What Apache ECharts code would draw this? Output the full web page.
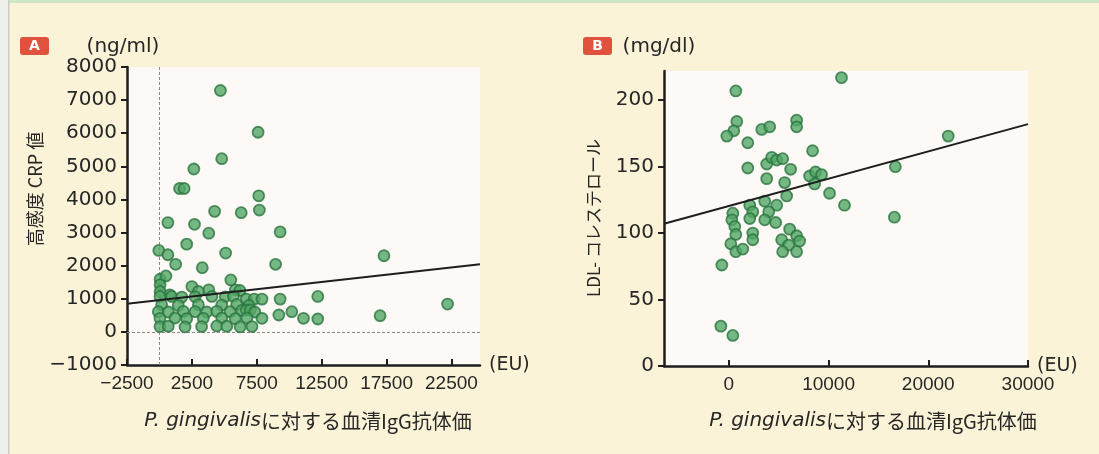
<!DOCTYPE html>
<html>
<head>
<meta charset="utf-8">
<script src="https://cdn.jsdelivr.net/npm/echarts@6/dist/echarts.min.js"></script>
<style>
  html, body { margin: 0; padding: 0; background: #fbf3d7; }
  #chart { width: 1099px; height: 454px; }
</style>
</head>
<body>
<div id="chart"></div>
<script>
// Panel A: serum IgG titre vs. high-sensitivity CRP (ng/ml)
const crpPoints = [
  [4700, 7290], [7600, 6030], [4800, 5230], [2650, 4920], [1550, 4330], [1900, 4330],
  [7650, 4110], [7700, 3680], [6300, 3600], [4250, 3640], [650, 3300], [2700, 3250],
  [3800, 2980], [9300, 3020], [-50, 2460], [650, 2330], [2100, 2650], [5100, 2380],
  [1250, 2040], [3300, 1940], [8950, 2040], [17300, 2300],
  [5500, 1570], [50, 1590], [500, 1690], [50, 1420], [2500, 1370], [3800, 1270],
  [5850, 1270], [6200, 1250], [3000, 1220], [50, 1220], [800, 1120],
  [40, 1070], [940, 1070], [1720, 1050], [2750, 1060], [4040, 1070], [5070, 1060],
  [5700, 1080], [6700, 990], [7300, 990], [7900, 990], [9300, 990], [12200, 1070],
  [170, 820], [1450, 800], [3000, 820], [4800, 810], [5950, 830], [6900, 800],
  [-90, 610], [680, 600], [1840, 620], [2750, 610], [3650, 600], [4420, 620],
  [5450, 610], [6350, 650], [6700, 660], [7000, 660], [7350, 600],
  [40, 410], [1200, 420], [2100, 400], [3380, 410], [4800, 420], [5840, 400],
  [6740, 420], [7900, 410],
  [40, 160], [680, 170], [1970, 150], [3250, 160], [4420, 180], [5190, 170],
  [6220, 150], [7130, 160],
  [9200, 510], [10200, 610], [11100, 410], [12200, 390], [17000, 490], [22200, 840]
];
const crpFit = [[-2500, 850], [24700, 2040]];
const crpXTicks = [-2500, 2500, 7500, 12500, 17500, 22500];

// Panel B: serum IgG titre vs. LDL cholesterol (mg/dl)
const ldlPoints = [
  [700, 207], [11300, 217], [800, 184], [500, 177], [-200, 173], [3300, 178],
  [4100, 180], [6800, 185], [6800, 180], [1900, 168], [8400, 162], [1900, 149],
  [3800, 152], [4300, 157], [4800, 155], [5400, 156], [6200, 148], [3800, 141],
  [5600, 138], [8100, 143], [8700, 146], [9300, 144], [8600, 137], [10100, 130],
  [22000, 173], [16700, 150], [11600, 121], [16600, 112], [5800, 128], [2100, 121],
  [3600, 124], [4800, 121], [400, 115], [2400, 116], [4000, 116], [300, 110],
  [2100, 111], [3600, 110], [4700, 108], [600, 105], [700, 99], [2400, 100],
  [2400, 95], [200, 92], [700, 86], [1400, 88], [6100, 103], [6800, 98],
  [7100, 94], [5300, 95], [6000, 91], [5400, 86], [6800, 86], [-700, 76],
  [-800, 30], [400, 23]
];
const ldlFit = [[-6500, 107], [30000, 182]];
const ldlXTicks = [0, 10000, 20000, 30000];
const ldlYTicks = [0, 50, 100, 150, 200];

const xTitle = '{i|P. gingivalis}に対する血清IgG抗体価';

const ink = '#262626';
const cjk = '"Noto Sans CJK JP", "Noto Sans", sans-serif';
const markerStyle = { color: '#53a767', borderColor: '#2a7440', borderWidth: 1.8 };

// plain digits, typographic minus
const numLabel = v => String(v).replace('-', '\u2212');

function xAxisBase(gridIndex, min, max, ticks, nameLift) {
  return {
    type: 'value', gridIndex, min, max,
    name: '(EU)', nameLocation: 'end', nameGap: 9, nameMoveOverlap: false,
    nameTextStyle: { fontFamily: 'DejaVu Sans', fontSize: 19, color: ink, verticalAlign: 'middle', padding: [0, 0, nameLift, 0] },
    axisLine: { show: true, onZero: false, lineStyle: { color: '#1e1e1e', width: 2.5 } },
    axisTick: { show: true, inside: true, length: 6, customValues: ticks, lineStyle: { color: '#1e1e1e', width: 2 } },
    axisLabel: { customValues: ticks, margin: 9, fontFamily: 'Liberation Sans', fontSize: 19, color: ink, formatter: numLabel },
    splitLine: { show: false }
  };
}
function yAxisBase(gridIndex, min, max, interval, ticks) {
  const ax = {
    type: 'value', gridIndex, min, max, interval,
    axisLine: { show: true, onZero: false, lineStyle: { color: '#1e1e1e', width: 2.5 } },
    axisTick: { show: true, inside: false, length: 6, lineStyle: { color: '#1e1e1e', width: 2 } },
    axisLabel: { margin: 10, fontFamily: 'DejaVu Sans', fontSize: 20, color: ink, formatter: numLabel },
    splitLine: { show: false }
  };
  if (ticks) { ax.axisTick.customValues = ticks; ax.axisLabel.customValues = ticks; }
  return ax;
}

function badge(x, letter) {
  return [
    { type: 'rect', shape: { x: x, y: 37, width: 29, height: 18, r: 3 }, style: { fill: '#e0523d' } },
    { type: 'text', x: x + 14.5, y: 46.5, style: { text: letter, fill: '#fff', font: 'bold 14px "DejaVu Sans"', align: 'center', verticalAlign: 'middle' } }
  ];
}
function plainText(x, y, text, size) {
  return { type: 'text', x, y, style: { text, fill: ink, font: size + 'px "DejaVu Sans"', align: 'center', verticalAlign: 'middle' } };
}
function bottomTitle(cx) {
  return {
    type: 'text', x: cx, y: 421,
    style: {
      text: xTitle, fill: ink, font: '20px ' + cjk, align: 'center', verticalAlign: 'middle',
      rich: { i: { fontStyle: 'italic', font: 'italic 20px "DejaVu Sans"', fill: ink } }
    }
  };
}
function sideTitle(cx, cy, text, size) {
  return {
    type: 'text', x: cx, y: cy, rotation: Math.PI / 2,
    style: { text, fill: ink, font: size + 'px ' + cjk, align: 'center', verticalAlign: 'middle' }
  };
}

const chart = echarts.init(document.getElementById('chart'), null, { renderer: 'canvas' });
chart.setOption({
  backgroundColor: '#fbf3d7',
  animation: false,
  grid: [
    { left: 127, right: 619, top: 67, bottom: 89, outerBoundsMode: 'none', show: true, backgroundColor: '#fdf9f6', borderWidth: 0 },
    { left: 664, right: 71, top: 71, bottom: 88, outerBoundsMode: 'none', show: true, backgroundColor: '#fdf9f6', borderWidth: 0 }
  ],
  xAxis: [
    xAxisBase(0, -2500, 24700, crpXTicks, 0),
    xAxisBase(1, -6500, 30000, ldlXTicks, 6)
  ],
  yAxis: [
    yAxisBase(0, -1000, 8000, 1000, null),
    yAxisBase(1, 0, 222, 50, ldlYTicks)
  ],
  series: [
    {
      type: 'scatter', xAxisIndex: 0, yAxisIndex: 0, data: crpPoints,
      symbolSize: 11, itemStyle: markerStyle, z: 3,
      markLine: {
        silent: true, symbol: 'none', label: { show: false },
        lineStyle: { color: '#8a8a8a', width: 1, type: [3, 2] },
        data: [{ xAxis: 0 }, { yAxis: 0 }], z: 1
      }
    },
    {
      type: 'line', xAxisIndex: 0, yAxisIndex: 0, data: crpFit,
      symbol: 'none', lineStyle: { color: '#1e1e1e', width: 2 }, z: 4
    },
    {
      type: 'scatter', xAxisIndex: 1, yAxisIndex: 1, data: ldlPoints,
      symbolSize: 11, itemStyle: markerStyle, z: 3
    },
    {
      type: 'line', xAxisIndex: 1, yAxisIndex: 1, data: ldlFit,
      symbol: 'none', lineStyle: { color: '#1e1e1e', width: 2 }, z: 4
    }
  ],
  graphic: [
    { type: 'rect', shape: { x: 0, y: 0, width: 1099, height: 3 }, style: { fill: '#cfe6c6' } },
    { type: 'rect', shape: { x: 0, y: 0, width: 8, height: 454 }, style: { fill: '#eef0ec' } },
    { type: 'rect', shape: { x: 8, y: 0, width: 1.5, height: 454 }, style: { fill: '#c9ccc4' } },
    ...badge(20, 'A'),
    ...badge(583, 'B'),
    plainText(123, 47, '(ng/ml)', 20),
    plainText(659, 47, '(mg/dl)', 20),
    sideTitle(35, 189, '高感度 CRP 値', 18),
    sideTitle(594, 218, 'LDL- コレステロール', 17),
    bottomTitle(308),
    bottomTitle(873)
  ]
});
</script>
</body>
</html>
